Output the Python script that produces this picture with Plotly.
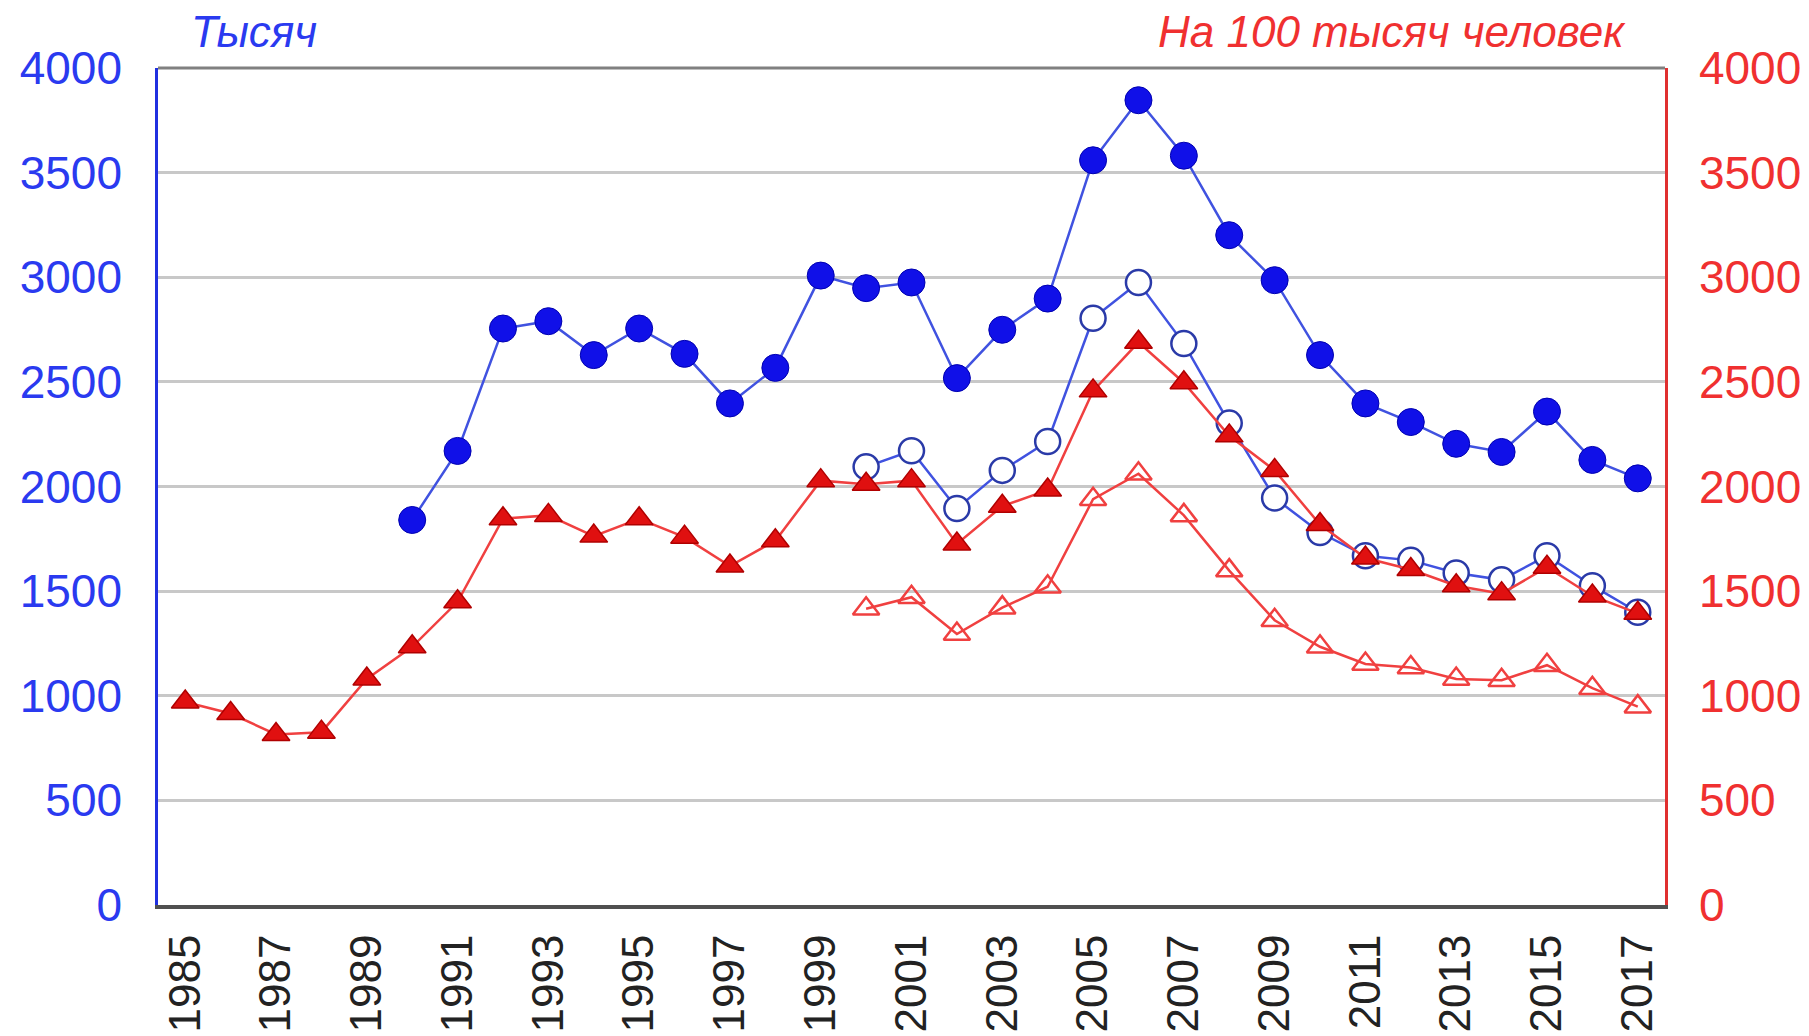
import plotly.graph_objects as go

years_all = list(range(1985, 2018))
years_blue = list(range(1990, 2018))
years_new = list(range(2000, 2018))

blue_filled = [1840, 2170, 2755, 2790, 2628, 2755, 2634, 2397, 2567, 3008,
               2948, 2975, 2518, 2749, 2898, 3559, 3846, 3581, 3201, 2986,
               2628, 2397, 2308, 2204, 2165, 2358, 2127, 2039]
blue_open = [2094, 2171, 1895, 2077, 2215, 2804, 2975, 2683, 2303, 1945,
             1780, 1669, 1647, 1587, 1554, 1669, 1526, 1399]
red_filled = [970, 915, 815, 826, 1080, 1234, 1449, 1846, 1862, 1763,
              1846, 1758, 1620, 1741, 2028, 2011, 2028, 1725, 1906, 1983,
              2457, 2689, 2496, 2242, 2077, 1818, 1658, 1603, 1526, 1488,
              1614, 1477, 1394]
red_open = [1416, 1471, 1295, 1421, 1521, 1939, 2061, 1862, 1598, 1361,
            1234, 1152, 1135, 1080, 1074, 1146, 1036, 948]

tick_years = list(range(1985, 2018, 2))
y_ticks = list(range(0, 4001, 500))

BLUE_LINE = "#4052e0"
BLUE = "#1010e8"
RED_LINE = "#f04040"
RED = "#e01010"
FONT = "Liberation Sans, Arial, sans-serif"

fig = go.Figure()

fig.add_trace(go.Scatter(x=years_new, y=red_open, mode="lines+markers",
                         line=dict(color=RED_LINE, width=2.5),
                         marker=dict(symbol="triangle-up-open", size=23, color=RED_LINE,
                                     line=dict(width=2.5, color=RED_LINE)),
                         yaxis="y2"))
fig.add_trace(go.Scatter(x=years_all, y=red_filled, mode="lines+markers",
                         line=dict(color=RED_LINE, width=2.5),
                         marker=dict(symbol="triangle-up", size=24, color=RED,
                                     line=dict(width=1.5, color="#b00000")),
                         yaxis="y2"))
fig.add_trace(go.Scatter(x=years_new, y=blue_open, mode="lines+markers",
                         line=dict(color=BLUE_LINE, width=2.5),
                         marker=dict(symbol="circle", size=25, color="white",
                                     line=dict(width=2.5, color="#2a3aa8"))))
fig.add_trace(go.Scatter(x=years_blue, y=blue_filled, mode="lines+markers",
                         line=dict(color=BLUE_LINE, width=2.5),
                         marker=dict(symbol="circle", size=27, color=BLUE,
                                     line=dict(width=1, color="#0000b0"))))

fig.update_layout(
    width=1809, height=1036,
    margin=dict(l=137, r=152, t=60, b=139),
    paper_bgcolor="white", plot_bgcolor="white",
    showlegend=False,
    font=dict(family=FONT, size=44),
    xaxis=dict(range=[1984.4, 2017.6], tickmode="array", tickvals=tick_years,
               ticktext=[str(y) for y in tick_years], tickangle=-90,
               showgrid=False, zeroline=False, showline=True,
               linecolor="#505050", linewidth=4, ticks="",
               tickfont=dict(color="#222222", size=44), ticklabelstandoff=8),
    yaxis=dict(range=[0, 4000], tickmode="array", tickvals=y_ticks,
               showgrid=True, gridcolor="#c8c8c8", gridwidth=3,
               zeroline=False, showline=True, linecolor="#2030e0", linewidth=2.5,
               ticks="", tickfont=dict(color="#2a3af0", size=46),
               ticklabelstandoff=24),
    yaxis2=dict(range=[0, 4000], tickmode="array", tickvals=y_ticks,
                overlaying="y", side="right", showgrid=False, zeroline=False,
                showline=True, linecolor="#e03030", linewidth=2.5, ticks="",
                tickfont=dict(color="#f03030", size=46), ticklabelstandoff=22),
)

fig.add_shape(type="line", xref="paper", yref="paper", x0=0, x1=1, y0=1, y1=1,
              line=dict(color="#808080", width=3))

fig.add_annotation(text="<i>Тысяч</i>", xref="paper", yref="paper",
                   x=(176 - 145) / 1520, y=1, xanchor="left", yanchor="bottom",
                   yshift=10, showarrow=False,
                   font=dict(family=FONT, size=44, color="#2a3af0"))
fig.add_annotation(text="<i>На 100 тысяч человек</i>", xref="paper", yref="paper",
                   x=(1628 - 145) / 1520, y=1, xanchor="right", yanchor="bottom",
                   yshift=10, showarrow=False,
                   font=dict(family=FONT, size=44, color="#f03030"))

fig.write_html("out.html")
